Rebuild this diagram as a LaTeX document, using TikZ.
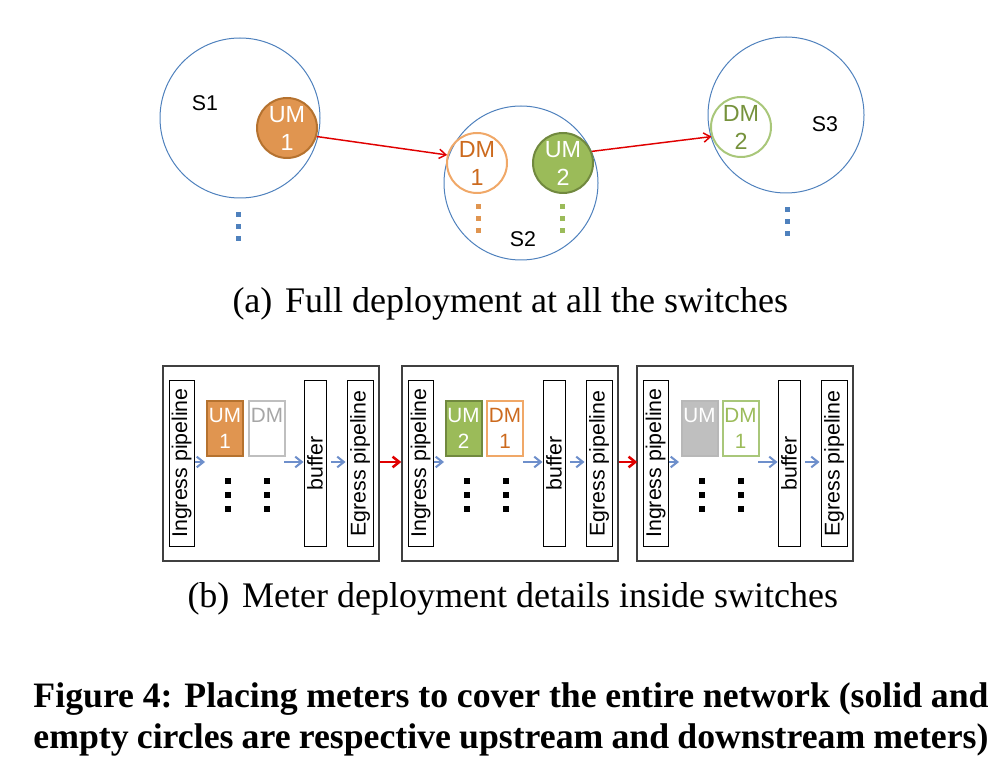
\documentclass[tikz,border=0pt]{standalone}
\usepackage{fontspec}
\setmainfont{Liberation Serif}
\newfontfamily\arialfont{Liberation Sans}
\usetikzlibrary{arrows.meta}

\definecolor{swblue}{RGB}{79,129,189}
\definecolor{umorange}{RGB}{224,149,80}
\definecolor{umorangeline}{RGB}{181,114,47}
\definecolor{dmorange}{RGB}{240,168,104}
\definecolor{dmorangetext}{RGB}{204,106,30}
\definecolor{umgreen}{RGB}{155,187,89}
\definecolor{umgreenline}{RGB}{113,137,63}
\definecolor{dmgreen}{RGB}{169,199,122}
\definecolor{dmgreentext}{RGB}{118,146,60}
\definecolor{flowblue}{RGB}{110,143,203}
\definecolor{linkred}{RGB}{224,0,0}
\definecolor{idlegray}{RGB}{191,191,191}
\definecolor{idletext}{RGB}{166,166,166}

\tikzset{every picture/.style={line width=0.75pt}}
\tikzset{
  switch/.style={circle, draw=swblue, line width=0.75pt, inner sep=0pt},
  meter/.style={circle, line width=1.5pt, minimum size=45pt, inner sep=0pt, align=center, font=\arialfont\fontsize{17.5}{21}\selectfont},
  swname/.style={inner sep=0pt, font=\arialfont\fontsize{16}{19}\selectfont},
  stage/.style={draw, rectangle, line width=0.75pt, minimum height=124.5pt, inner sep=0pt},
  mbox/.style={rectangle, line width=1.5pt, minimum width=27pt, minimum height=41.25pt, inner sep=0pt, align=center, font=\arialfont\fontsize{15.5}{19.5}\selectfont},
  link/.style={draw=linkred, line width=1.1pt, -{Straight Barb[length=5pt, width=7pt]}},
  hop/.style={draw=linkred, line width=1.9pt, -{Straight Barb[length=5pt, width=8pt]}},
  flow/.style={draw=flowblue, line width=1.5pt, -{Straight Barb[length=5pt, width=8pt]}},
  caption/.style={inner sep=0pt, anchor=base west, font=\fontsize{27}{32}\selectfont},
}

\begin{document}
\begin{tikzpicture}[x=0.75pt,y=0.75pt,yscale=-1,xscale=1]
\useasboundingbox (0,0) rectangle (998,762);

%Shape: Circle [switches]
\draw (240,118) node (sw1) [switch, minimum size=120pt] {};
\draw (521,183) node (sw2) [switch, minimum size=115.5pt] {};
\draw (786,115) node (sw3) [switch, minimum size=117pt] {};

%Shape: Circle [meters]
\draw (287,128) node (um1) [meter, fill=umorange, draw=umorangeline, text=white] {UM\\1};
\draw (477,163) node (dm1) [meter, draw=dmorange, text=dmorangetext] {DM\\1};
\draw (563,163) node (um2) [meter, fill=umgreen, draw=umgreenline, text=white] {UM\\2};
\draw (741,127) node (dm2) [meter, draw=dmgreen, text=dmgreentext] {DM\\2};

% Text Node
\draw (205,103) node (s1) [swname] {S1};
\draw (523,239) node (s2) [swname] {S2};
\draw (825,124) node (s3) [swname] {S3};

%Straight Lines
\draw [link] (um1.-16) -- (dm1.165);
\draw [link] (um2.22) -- (dm2.198);

%Shape: Square [dots]
\foreach \y in {0,12,24} {
  \fill [swblue] (235.5,212.5+\y) rectangle +(5,5);
  \fill [umorange] (475.5,204.5+\y) rectangle +(5,5);
  \fill [umgreen] (559.5,204.5+\y) rectangle +(5,5);
  \fill [swblue] (784.5,207.5+\y) rectangle +(5,5);
}

% Text Node
\draw (232,313) node (capa) [caption] {(a)\hspace{0.35em}Full deployment at all the switches};

%Shape: Rectangle [switch internals]
\foreach \ox/\i in {163/1,402/2,637/3} {
  \draw (\ox+108,463.5) node (box\i) [draw=black!75, line width=1.1pt, minimum width=162pt, minimum height=146.25pt, inner sep=0pt] {};
  \draw (\ox+18.5,463) node (ing\i) [stage, minimum width=18.75pt, label={[rotate=90, swname]center:Ingress pipeline}] {};
  \draw (\ox+152,463.5) node (buf\i) [stage, minimum width=16.5pt, label={[rotate=90, swname]center:buffer}] {};
  \draw (\ox+197,463.5) node (egr\i) [stage, minimum width=19.5pt, label={[rotate=90, swname]center:Egress pipeline}] {};
  \coordinate (in\i) at (\ox+42,462);
  \coordinate (out\i) at (\ox+121,462);
  \draw [flow] (ing\i.east |- in\i) -- (in\i);
  \draw [flow] (out\i) -- (buf\i.west |- out\i);
  \draw [flow] ([xshift=3.5pt]buf\i.east |- out\i) -- ([xshift=-0.75pt]egr\i.west |- out\i);
  \foreach \y in {0,14,28} {
    \fill (\ox+62,478+\y) rectangle +(6,6);
    \fill (\ox+101,478+\y) rectangle +(6,6);
  }
}

%Shape: Rectangle [meter boxes]
\draw (225,428.5) node (bum1) [mbox, fill=umorange, draw=umorangeline, text=white] {UM\\1};
\draw (267,428.5) node (bdm1) [mbox, draw=idlegray, text=idletext] {DM\\\phantom{1}};
\draw (463.5,428) node (bum2) [mbox, fill=umgreen, draw=umgreenline, text=white] {UM\\2};
\draw (505,428) node (bdm2) [mbox, draw=dmorange, text=dmorangetext] {DM\\1};
\draw (699.5,428) node (bum3) [mbox, fill=idlegray, draw=idletext!80, text=white] {UM\\\phantom{1}};
\draw (740.5,428) node (bdm3) [mbox, draw=dmgreen, text=umgreen] {DM\\1};

%Straight Lines
\draw [hop] (box1.east |- in1) -- (box2.west |- in1);
\draw [hop] (box2.east |- in2) -- ([xshift=0.75pt]box3.west |- in2);

% Text Node
\draw (187,607) node (capb) [caption] {(b)\hspace{0.35em}Meter deployment details inside switches};
\draw (33,707) node (fig1) [caption, font=\bfseries\fontsize{26.8}{32}\selectfont] {\makebox[716.25pt][s]{Figure 4: Placing meters to cover the entire network (solid and}};
\draw (33,748) node (fig2) [caption, font=\bfseries\fontsize{26.8}{32}\selectfont] {\makebox[716.25pt][s]{empty circles are respective upstream and downstream meters)}};

\end{tikzpicture}
\end{document}
